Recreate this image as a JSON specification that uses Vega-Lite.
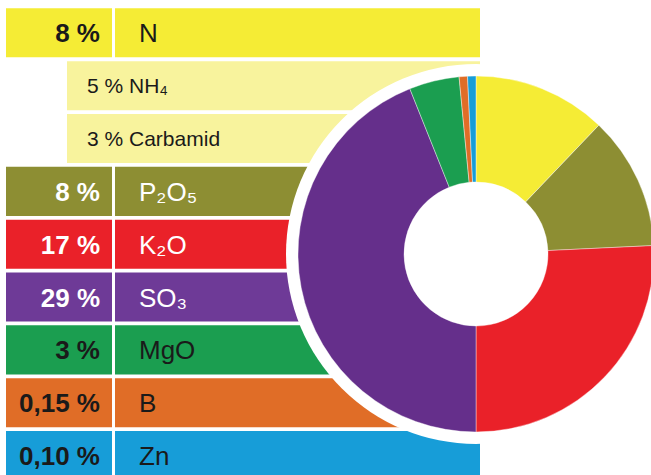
{
  "$schema": "https://vega.github.io/schema/vega-lite/v6.json",
  "width": 651,
  "height": 475,
  "autosize": "none",
  "padding": 0,
  "background": "white",
  "config": {"view": {"stroke": null}, "font": "Liberation Sans"},
  "data": {
    "values": [
      {"row": "N", "kind": "main", "pct": "8 %", "label": "N", "value": 8, "slice": 8, "idx": 1, "light": false},
      {"row": "NH4", "kind": "sub", "pct": "5 %", "label": "5 % NH₄", "value": 5, "slice": 0, "idx": 0, "light": false},
      {"row": "Carbamid", "kind": "sub", "pct": "3 %", "label": "3 % Carbamid", "value": 3, "slice": 0, "idx": 0, "light": false},
      {"row": "P2O5", "kind": "main", "pct": "8 %", "label": "P₂O₅", "value": 8, "slice": 8, "idx": 2, "light": true},
      {"row": "K2O", "kind": "main", "pct": "17 %", "label": "K₂O", "value": 17, "slice": 17, "idx": 3, "light": true},
      {"row": "SO3", "kind": "main", "pct": "29 %", "label": "SO₃", "value": 29, "slice": 29, "idx": 4, "light": true},
      {"row": "MgO", "kind": "main", "pct": "3 %", "label": "MgO", "value": 3, "slice": 3, "idx": 5, "light": false},
      {"row": "B", "kind": "main", "pct": "0,15 %", "label": "B", "value": 0.15, "slice": 0.5, "idx": 6, "light": false},
      {"row": "Zn", "kind": "main", "pct": "0,10 %", "label": "Zn", "value": 0.10, "slice": 0.5, "idx": 7, "light": false}
    ]
  },
  "encoding": {
    "y": {
      "field": "row", "type": "nominal", "axis": null, "sort": null,
      "scale": {
        "domain": ["N", "NH4", "Carbamid", "P2O5", "K2O", "SO3", "MgO", "B", "Zn"],
        "range": [6.4, 482], "paddingInner": 0.072, "paddingOuter": 0.036
      }
    }
  },
  "layer": [
    {
      "transform": [{"filter": "datum.kind == 'main'"}],
      "mark": {"type": "rect"},
      "encoding": {
        "x": {"datum": 6, "type": "quantitative", "axis": null, "scale": {"domain": [0, 651], "nice": false, "zero": false}},
        "x2": {"datum": 112},
        "fill": {
          "field": "row", "type": "nominal", "legend": null,
          "scale": {
            "domain": ["N", "NH4", "Carbamid", "P2O5", "K2O", "SO3", "MgO", "B", "Zn"],
            "range": ["#f5ec35", "#f8f39d", "#f8f39d", "#8d8e33", "#ea2129", "#6e3a97", "#1b9e50", "#e06d27", "#179dd8"]
          }
        }
      }
    },
    {
      "transform": [{"filter": "datum.kind == 'main'"}],
      "mark": {"type": "rect"},
      "encoding": {
        "x": {"datum": 115, "type": "quantitative"},
        "x2": {"datum": 480},
        "fill": {"field": "row", "type": "nominal", "legend": null}
      }
    },
    {
      "transform": [{"filter": "datum.kind == 'sub'"}],
      "mark": {"type": "rect"},
      "encoding": {
        "x": {"datum": 67, "type": "quantitative"},
        "x2": {"datum": 480},
        "fill": {"field": "row", "type": "nominal", "legend": null}
      }
    },
    {
      "transform": [{"filter": "datum.kind == 'main'"}],
      "mark": {"type": "text", "align": "right", "baseline": "middle", "dy": 1.5, "fontWeight": "bold", "fontSize": 26, "font": "Liberation Sans"},
      "encoding": {
        "x": {"datum": 100, "type": "quantitative"},
        "text": {"field": "pct"},
        "color": {"condition": {"test": "datum.light", "value": "#ffffff"}, "value": "#1a1a1a"}
      }
    },
    {
      "transform": [{"filter": "datum.kind == 'main'"}],
      "mark": {"type": "text", "align": "left", "baseline": "middle", "dy": 1.5, "fontSize": 26, "font": "Liberation Sans"},
      "encoding": {
        "x": {"datum": 139, "type": "quantitative"},
        "text": {"field": "label"},
        "color": {"condition": {"test": "datum.light", "value": "#ffffff"}, "value": "#1a1a1a"}
      }
    },
    {
      "transform": [{"filter": "datum.kind == 'sub'"}],
      "mark": {"type": "text", "align": "left", "baseline": "middle", "dy": 1, "fontSize": 21, "font": "Liberation Sans", "color": "#1a1a1a"},
      "encoding": {
        "x": {"datum": 87, "type": "quantitative"},
        "text": {"field": "label"}
      }
    },
    {
      "data": {"values": [{"ring": "white"}]},
      "mark": {"type": "arc", "radius": 190, "theta": 0, "theta2": 6.2832, "fill": "white", "yOffset": 16.5},
      "encoding": {
        "x": {"datum": 476, "type": "quantitative"},
        "y": null
      }
    },
    {
      "transform": [{"filter": "datum.kind == 'main'"}],
      "mark": {"type": "arc", "radius": 178, "innerRadius": 72, "yOffset": 16.5, "stroke": "#ffffff", "strokeWidth": 0.4},
      "encoding": {
        "x": {"datum": 476, "type": "quantitative"},
        "y": null,
        "theta": {"field": "slice", "type": "quantitative", "stack": true},
        "order": {"field": "idx", "type": "quantitative"},
        "color": {
          "field": "row", "type": "nominal", "legend": null,
          "scale": {
            "domain": ["N", "P2O5", "K2O", "SO3", "MgO", "B", "Zn"],
            "range": ["#f5ec35", "#8d8e33", "#ea2129", "#652f8b", "#1b9e50", "#e06d27", "#179dd8"]
          }
        }
      }
    }
  ]
}
